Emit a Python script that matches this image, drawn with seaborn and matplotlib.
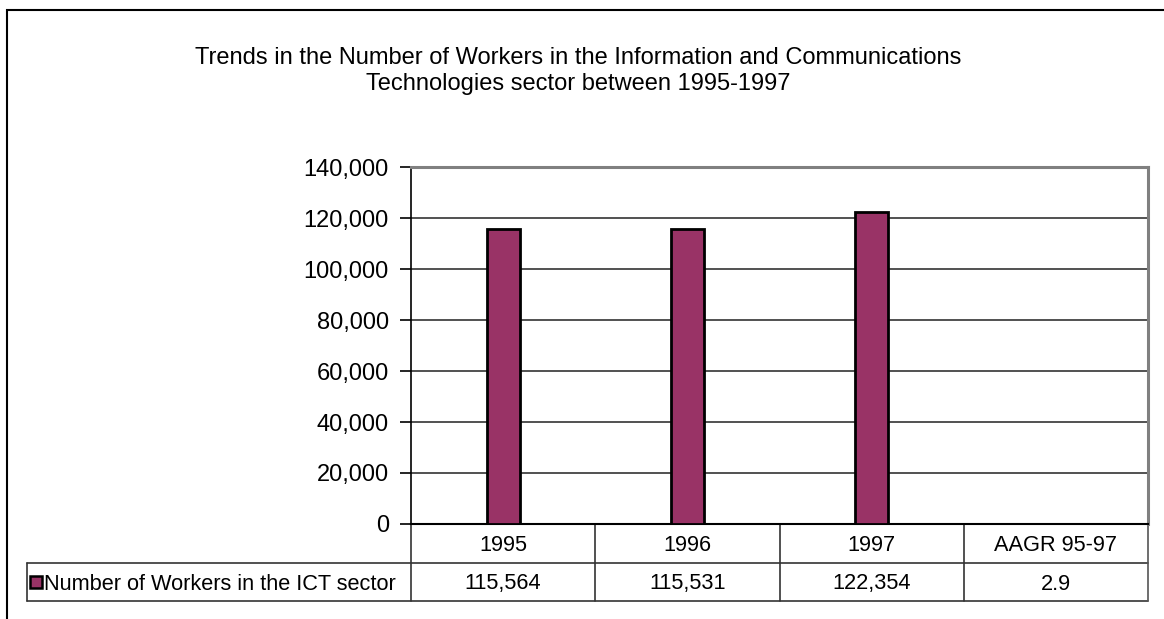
import matplotlib
matplotlib.use("Agg")
import matplotlib.pyplot as plt
from matplotlib.lines import Line2D
from matplotlib.patches import Rectangle
from matplotlib.ticker import FuncFormatter
import seaborn as sns
import pandas as pd

# Data
categories = ["1995", "1996", "1997", "AAGR 95-97"]
workers = [115564, 115531, 122354, 2.9]
value_labels = ["115,564", "115,531", "122,354", "2.9"]
series_name = "Number of Workers in the ICT sector"
title_lines = ["Trends in the Number of Workers in the Information and Communications",
               "Technologies sector between 1995-1997"]
y_ticks = list(range(0, 140001, 20000))

BAR_COLOR = "#993366"

sns.set_theme(style="white")
plt.rcParams["font.family"] = ["Liberation Sans", "DejaVu Sans"]
plt.rcParams["text.color"] = "black"
plt.rcParams["ytick.color"] = "black"
plt.rcParams["xtick.color"] = "black"

W, H = 1164, 619
fig = plt.figure(figsize=(W / 100, H / 100), dpi=100)
fig.patch.set_facecolor("white")

# plot area in pixel coordinates
L, R, T, B = 411, 1148, 167, 524
ax = fig.add_axes([L / W, 1 - B / H, (R - L) / W, (B - T) / H])

df = pd.DataFrame({"category": categories, "workers": workers})
sns.barplot(data=df, x="category", y="workers", color=BAR_COLOR, saturation=1,
            edgecolor="black", linewidth=2, width=0.18, ax=ax, zorder=3)

ax.set_xlim(-0.5, 3.5)
ax.set_ylim(0, 140000)
ax.set_yticks(y_ticks)
ax.yaxis.set_major_formatter(FuncFormatter(lambda v, p: f"{int(v):,}"))
ax.set_xticks([])
ax.set_xlabel("")
ax.set_ylabel("")
ax.yaxis.grid(True, color="#333333", linewidth=1.2, zorder=0)
ax.set_axisbelow(True)
ax.tick_params(axis="y", which="major", left=True, length=8, width=1.2,
               color="black", labelsize=17, pad=8, labelcolor="black")

for side in ("top", "right"):
    ax.spines[side].set_color("#808080")
    ax.spines[side].set_linewidth(2.2)
ax.spines["left"].set_color("black")
ax.spines["left"].set_linewidth(1.2)
ax.spines["bottom"].set_color("black")
ax.spines["bottom"].set_linewidth(1.5)

# Data table under the plot area
ax_h = B - T
ax_w = R - L
r1 = -(563 - B) / ax_h
r2 = -(601 - B) / ax_h
leg_left = (27 - L) / ax_w
line_kw = dict(transform=ax.transAxes, clip_on=False, color="#333333", linewidth=1.2)

ax.add_line(Line2D([leg_left, 1], [r1, r1], **line_kw))
ax.add_line(Line2D([leg_left, 1], [r2, r2], **line_kw))
ax.add_line(Line2D([leg_left, leg_left], [r1, r2], **line_kw))
ax.add_line(Line2D([0, 0], [0, r2], **line_kw))
ax.add_line(Line2D([1, 1], [0, r2], **dict(line_kw, color="#555555")))
for i in range(1, 4):
    ax.add_line(Line2D([i / 4, i / 4], [0, r2], **line_kw))

TABLE_FS = 15.7
text_shift = -2 / ax_h
row1_y = r1 / 2 + text_shift
row2_y = (r1 + r2) / 2 + text_shift
for i, (cat, lab) in enumerate(zip(categories, value_labels)):
    xc = (i + 0.5) / 4
    ax.text(xc, row1_y, cat, transform=ax.transAxes, ha="center", va="center",
            fontsize=TABLE_FS, color="black")
    ax.text(xc, row2_y, lab, transform=ax.transAxes, ha="center", va="center",
            fontsize=TABLE_FS, color="black")

# legend key inside the row header
sw = 12 / ax_w
sh = 12 / ax_h
sx = (30 - L) / ax_w
sy = (r1 + r2) / 2 - sh / 2
ax.add_patch(Rectangle((sx, sy), sw, sh, transform=ax.transAxes, clip_on=False,
                       facecolor=BAR_COLOR, edgecolor="black", linewidth=1.8))
ax.text((44 - L) / ax_w, row2_y, series_name, transform=ax.transAxes,
        ha="left", va="center", fontsize=TABLE_FS, color="black")

# Title
fig.text(0.4965, 1 - 58 / H, title_lines[0], ha="center", va="center", fontsize=17,
         color="black")
fig.text(0.4965, 1 - 84 / H, title_lines[1], ha="center", va="center", fontsize=17,
         color="black")

# chart area border
fig.add_artist(Rectangle((7 / W, -0.1), 1.2, 1 - 10 / H + 0.1, transform=fig.transFigure,
                         fill=False, edgecolor="black", linewidth=1.5))

fig.savefig("out.png", dpi=100, facecolor="white")
